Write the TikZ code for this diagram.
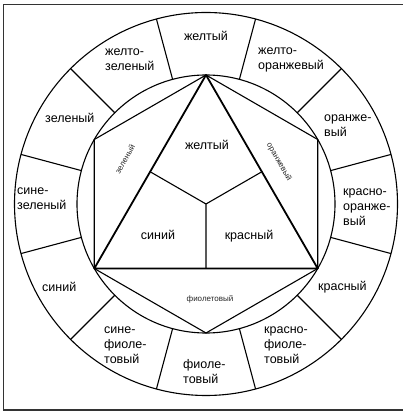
\documentclass[tikz,border=0pt]{standalone}
\usepackage{fontspec}
\setmainfont{Liberation Sans}
\begin{document}
\begin{tikzpicture}[x=1pt,y=1pt,
  ring/.style={line width=1.1pt},
  tri/.style={line width=1.8pt, line join=round},
  lab/.style={font=\fontsize{12.5}{15}\selectfont, align=left, anchor=west, inner sep=0pt},
  clab/.style={font=\fontsize{12.5}{15}\selectfont, inner sep=0pt},
  small/.style={font=\fontsize{8}{9}\selectfont, inner sep=0pt, text=black!85}]
\useasboundingbox (-206,-207) rectangle (196,204);
\draw[black!80, line width=1.3pt] (-202.5,-206) rectangle (200,199.5);
% rings
\draw[ring] (0,0) circle (191.5);
\draw[ring] (0,0) circle (129);
\foreach \a in {15,45,...,345} \draw[ring] (\a:129) -- (\a:191.5);
% hexagon and triangle
\coordinate (T) at (90:129);
\coordinate (UR) at (30:129);
\coordinate (LR) at (-30:129);
\coordinate (B) at (-90:129);
\coordinate (LL) at (210:129);
\coordinate (UL) at (150:129);
\coordinate (C) at (0,0);
\coordinate (mL) at (150:64.5);
\coordinate (mR) at (30:64.5);
\coordinate (mB) at (-90:64.5);
\draw[ring] (T) -- (UR) -- (LR) -- (B) -- (LL) -- (UL) -- cycle;
\draw[tri] (T) -- (LL) -- (LR) -- cycle;
\draw[ring] (C) -- (mL) (C) -- (mR) (C) -- (mB);
% outer labels
\node[clab] (l1) at (0,168) {желтый};
\node[lab] (l2) at (52,144) {желто-\\оранжевый};
\node[lab] (l3) at (118,78) {оранже-\\вый};
\node[lab] (l4) at (137,-3) {красно-\\оранже-\\вый};
\node[lab] (l5) at (112,-83) {красный};
\node[lab] (l6) at (58,-141) {красно-\\фиоле-\\товый};
\node[lab] (l7) at (-23,-168) {фиоле-\\товый};
\node[lab] (l8) at (-102,-141) {сине-\\фиоле-\\товый};
\node[lab] (l9) at (-164,-83) {синий};
\node[lab] (l10) at (-189,5) {сине-\\зеленый};
\node[lab] (l11) at (-161,86) {зеленый};
\node[lab] (l12) at (-101,144) {желто-\\зеленый};
% inner labels
\node[clab] (i1) at (1,59) {желтый};
\node[clab] (i2) at (-48,-31) {синий};
\node[clab] (i3) at (43,-32) {красный};
\node[small, rotate=60] (s1) at (-81,45) {зеленый};
\node[small, rotate=-60] (s2) at (73,42) {оранжевый};
\node[small] (s3) at (4,-95) {фиолетовый};
\end{tikzpicture}
\end{document}
